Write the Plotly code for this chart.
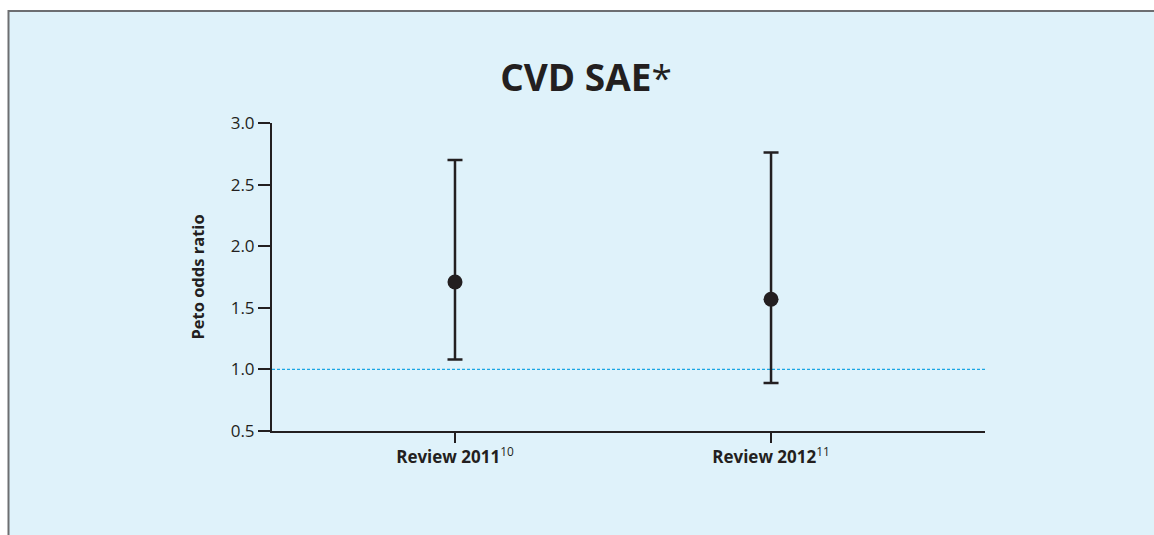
import plotly.graph_objects as go

categories = ["Review 2011", "Review 2012"]
superscripts = ["10", "11"]
odds_ratio = [1.71, 1.57]
ci_upper = [2.70, 2.76]
ci_lower = [1.08, 0.89]
y_ticks = [0.5, 1.0, 1.5, 2.0, 2.5, 3.0]
reference_line = 1.0

x_pos = list(range(len(categories)))
err_plus = [u - m for u, m in zip(ci_upper, odds_ratio)]
err_minus = [m - l for m, l in zip(odds_ratio, ci_lower)]

DARK = "#231f20"
FONT = "Open Sans"

fig = go.Figure()
fig.add_trace(go.Scatter(
    x=x_pos, y=odds_ratio, mode="markers",
    marker=dict(size=15, color=DARK),
    error_y=dict(type="data", symmetric=False, array=err_plus, arrayminus=err_minus,
                 color=DARK, thickness=2.5, width=7.5),
    showlegend=False, hoverinfo="skip",
))

x_range = [-0.579, 1.677]
fig.add_shape(type="line", xref="x", yref="y", x0=x_range[0], x1=x_range[1],
              y0=reference_line, y1=reference_line,
              line=dict(color="#1aa6e4", width=1.4, dash="3px,2px"), layer="below")

# light blue panel with gray border
fig.add_shape(type="rect", xref="paper", yref="paper",
              x0=(8.5 - 272) / 713, x1=1.5, y0=-0.5, y1=(431 - 11) / 308,
              fillcolor="#dff2fa", line=dict(color="#6d6e71", width=2), layer="below")

fig.update_layout(
    width=1154, height=535,
    margin=dict(l=272, r=169, t=123, b=104),
    paper_bgcolor="white", plot_bgcolor="rgba(0,0,0,0)",
    font=dict(family=FONT, color=DARK),
    title=dict(text="<b>CVD SAE</b>*", x=586 / 1154, xref="container", xanchor="center",
               y=1 - 78 / 535, yref="container", yanchor="middle",
               font=dict(size=37, family=FONT, color=DARK)),
    xaxis=dict(range=x_range, tickvals=x_pos,
               ticktext=[f"<b>{c}</b><sup>{s}</sup>" for c, s in zip(categories, superscripts)],
               showgrid=False, zeroline=False, showline=True, linecolor=DARK, linewidth=2,
               ticks="outside", ticklen=10, tickwidth=2, tickcolor=DARK,
               tickfont=dict(size=17, color=DARK, family=FONT)),
    yaxis=dict(range=[0.5, 3.0], tickvals=y_ticks,
               ticktext=[f"{v:.1f}" for v in y_ticks],
               showgrid=False, zeroline=False, showline=True, linecolor=DARK, linewidth=2,
               ticks="outside", ticklen=12, tickwidth=2, tickcolor=DARK,
               tickfont=dict(size=17, color=DARK, family=FONT),
               title=dict(text="<b>Peto odds ratio</b>", standoff=22,
                          font=dict(size=16.5, color=DARK, family=FONT))),
)

fig.write_html("out.html", config={"displayModeBar": False},
               post_script="document.body.style.margin='0';document.body.style.overflow='hidden';")
